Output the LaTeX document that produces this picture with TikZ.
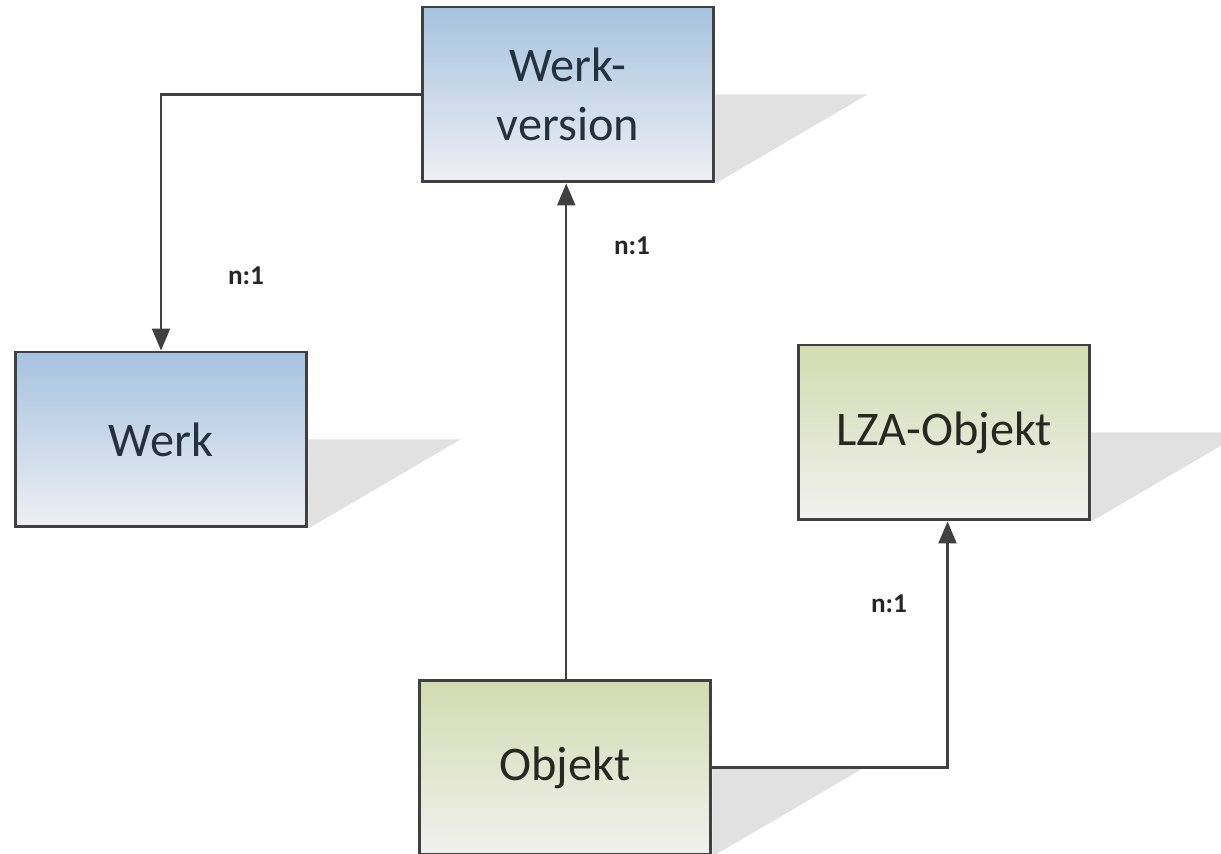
\documentclass[tikz,border=0pt]{standalone}
\usepackage{fontspec}
\setmainfont{Carlito}
\usepackage{tikz}
\usetikzlibrary{positioning}
\usetikzlibrary{arrows.meta,backgrounds}

\definecolor{boxline}{HTML}{404040}
\definecolor{bluetop}{HTML}{A6C2DF}
\definecolor{bluebot}{HTML}{EEF0F4}
\definecolor{greentop}{HTML}{D2DBB0}
\definecolor{greenbot}{HTML}{F1F1EE}
\definecolor{shadowgray}{HTML}{E1E1E1}
\definecolor{bluetext}{HTML}{25313D}
\definecolor{greentext}{HTML}{282822}

\tikzset{
  entity/.style={draw=boxline, line width=1.7pt, minimum width=5.84cm,
    minimum height=3.5cm, inner sep=0pt, align=center,
    font=\fontsize{27.5}{34}\selectfont},
  blueentity/.style={entity, top color=bluetop, bottom color=bluebot, text=bluetext},
  greenentity/.style={entity, top color=greentop, bottom color=greenbot, text=greentext},
  rel/.style={draw=boxline, line width=1.3pt, -{Triangle[length=0.44cm,width=0.36cm]}},
  card/.style={font=\bfseries\fontsize{15.5}{18}\selectfont, text=black!85},
}

\begin{document}
\begin{tikzpicture}[x=0.02cm, y=0.02cm]
\useasboundingbox (0,0) rectangle (1221,854);

\node[blueentity] (wv) at (568,759.5) {Werk-\\version};
\node[blueentity] (werk) at (161,414.5) {Werk};
\node[greenentity] (lza) at (944,421.5) {LZA-Objekt};
\node[greenentity] (obj) at (565,86.5) {Objekt};

% shadows
\begin{scope}[on background layer]
\foreach \n in {wv,werk,lza,obj}
  \fill[shadowgray] (\n.east) -- ++(152,0) -- (\n.south east) -- cycle;
\end{scope}

\coordinate (up) at ([xshift=-1]wv.south);

\draw[rel] (wv.west) -| (werk.north);
\draw[rel] (obj.north -| up) -- (up);
\draw[rel] (obj.east) -| ([xshift=2]lza.south);

\node[card] (c1) at (246,578) {n:1};
\node[card] (c2) at (632,608) {n:1};
\node[card] (c3) at (889,250) {n:1};
\end{tikzpicture}
\end{document}
